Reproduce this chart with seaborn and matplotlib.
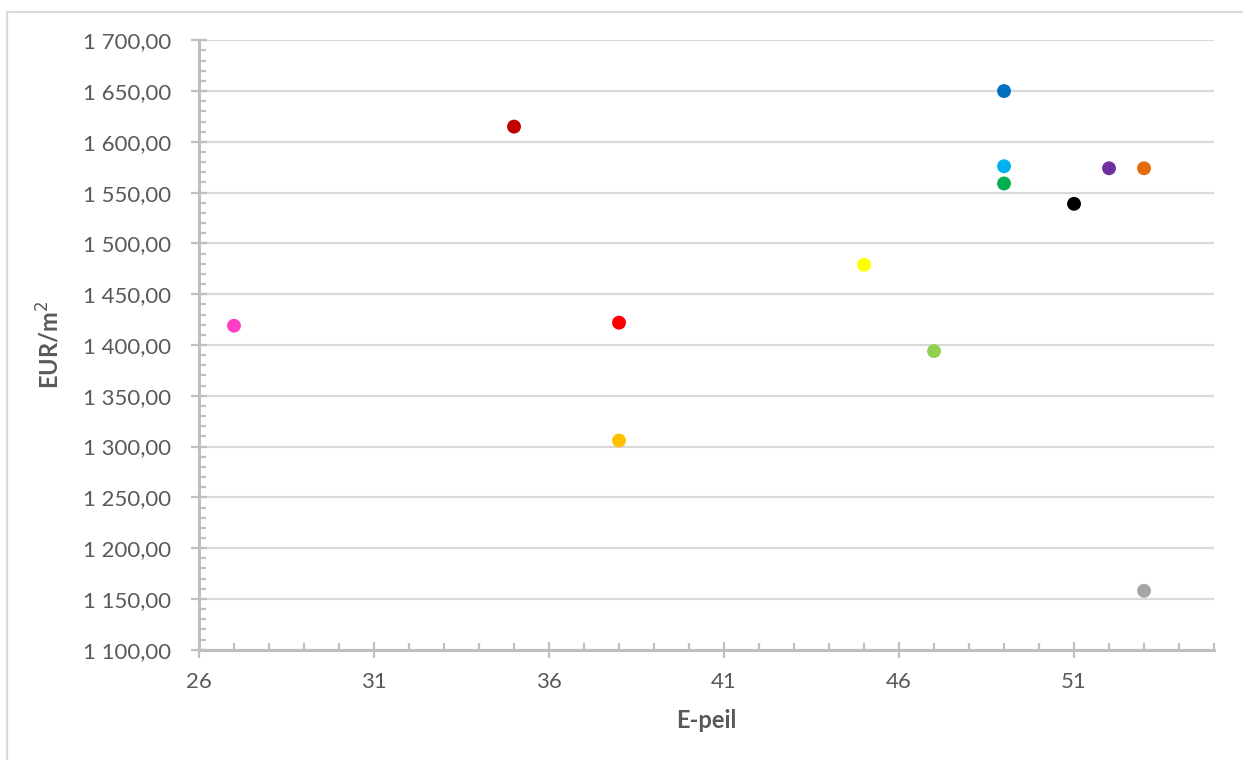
import matplotlib
matplotlib.use("Agg")
import matplotlib.pyplot as plt
from matplotlib.patches import Rectangle
from matplotlib.ticker import FixedLocator, MultipleLocator, FuncFormatter
import pandas as pd
import seaborn as sns

# E-peil versus building cost per m² for each project
projects = ["P01", "P02", "P03", "P04", "P05", "P06", "P07",
            "P08", "P09", "P10", "P11", "P12", "P13"]
e_peil = [27, 35, 38, 38, 45, 47, 49, 49, 49, 51, 52, 53, 53]
eur_m2 = [1419, 1615, 1422, 1306, 1479, 1394, 1650, 1576, 1559, 1539, 1574, 1574, 1158]
colors = ["#FF3FC8", "#C00000", "#FF0000", "#FFC000", "#FFFF00", "#92D050", "#0070C0",
          "#00B0F0", "#00B050", "#000000", "#7030A0", "#E46C0A", "#A5A5A5"]
x_ticks = [26, 31, 36, 41, 46, 51]

df = pd.DataFrame({"project": projects, "E-peil": e_peil, "EUR/m2": eur_m2})

sns.set_theme(style="white")
plt.rcParams["font.family"] = ["Lato", "DejaVu Sans"]

fig = plt.figure(figsize=(12.43, 7.60), dpi=100)
ax = fig.add_axes([0.1601, 0.1451, 0.8166, 0.8019])

sns.scatterplot(data=df, x="E-peil", y="EUR/m2", hue="project",
                palette=dict(zip(projects, colors)), s=100, linewidth=0,
                legend=False, ax=ax, zorder=3)

grid_c = "#D9D9D9"
axis_c = "#BFBFBF"
text_c = "#595959"

ax.set_xlim(26, 55)
ax.set_ylim(1100, 1700)
ax.xaxis.set_major_locator(FixedLocator(x_ticks))
ax.xaxis.set_minor_locator(MultipleLocator(1))
ax.yaxis.set_major_locator(MultipleLocator(50))
ax.yaxis.set_minor_locator(MultipleLocator(10))

def fmt_eur(v, _pos):
    s = f"{v:,.2f}"
    return s.replace(",", " ").replace(".", ",")

ax.yaxis.set_major_formatter(FuncFormatter(fmt_eur))
ax.xaxis.set_major_formatter(FuncFormatter(lambda v, _p: f"{v:.0f}"))

ax.grid(axis="y", which="major", color=grid_c, linewidth=1.6, zorder=0)
ax.grid(axis="x", visible=False)
for side in ("top", "right"):
    ax.spines[side].set_visible(False)
for side in ("left", "bottom"):
    ax.spines[side].set_color(axis_c)
    ax.spines[side].set_linewidth(2.2)

ax.tick_params(axis="both", which="major", direction="inout", length=12, width=1.6,
               color=axis_c, labelsize=16, labelcolor=text_c,
               left=True, bottom=True)
ax.tick_params(axis="y", which="major", pad=14)
ax.tick_params(axis="x", which="major", pad=10)
ax.tick_params(axis="both", which="minor", direction="in", length=5, width=1.6,
               color=axis_c, left=True, bottom=True)

ax.set_xlabel("E-peil", fontsize=17, fontweight="bold", color=text_c, labelpad=12)
ax.set_ylabel("EUR/m$^{2}$", fontsize=17, fontweight="bold", color=text_c, labelpad=14)

# light frame around the chart area
fig.patches.append(Rectangle((7 / 1243, -0.1), 1.2, 1 - 12 / 760 + 0.1,
                             transform=fig.transFigure, fill=False,
                             edgecolor="#D9D9D9", linewidth=1.6))

fig.savefig("out.png", dpi=100, facecolor="white")
